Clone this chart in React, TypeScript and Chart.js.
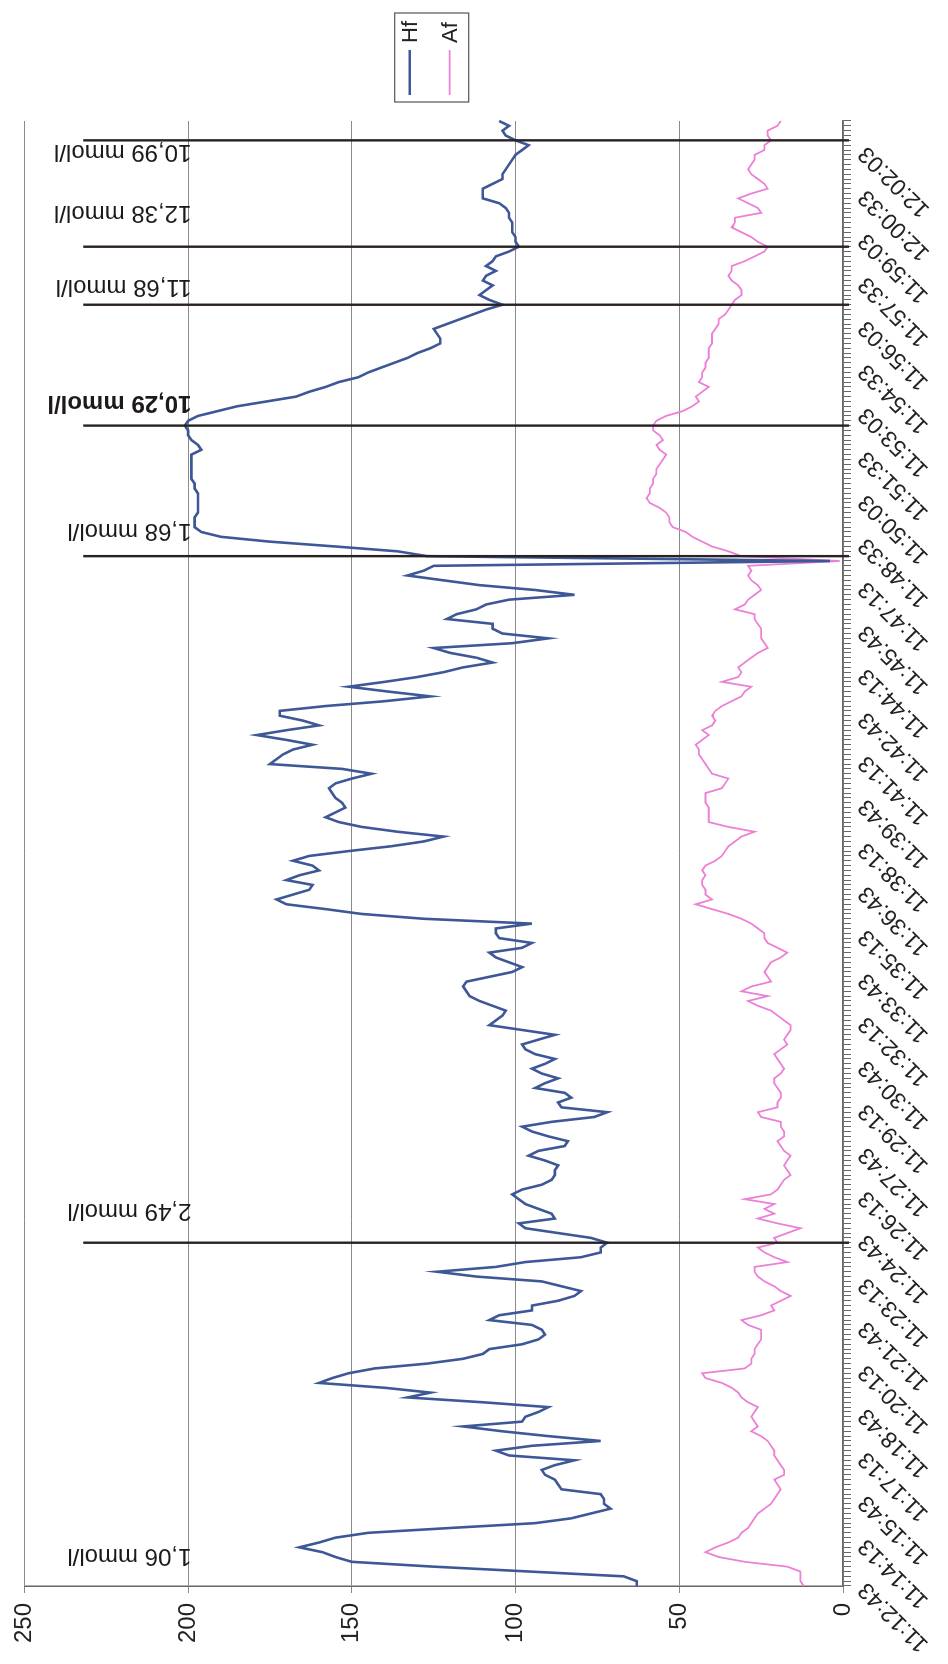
import React, { useEffect, useRef } from 'react';
import { Chart, registerables } from 'chart.js';

Chart.register(...registerables);

// Time-axis tick labels (one every 9 samples)
const TIME_LABELS = [
  '11:12:43', '11:14:13', '11:15:43', '11:17:13', '11:18:43', '11:20:13', '11:21:43', '11:23:13',
  '11:24:43', '11:26:13', '11:27:43', '11:29:13', '11:30:43', '11:32:13', '11:33:43', '11:35:13',
  '11:36:43', '11:38:13', '11:39:43', '11:41:13', '11:42:43', '11:44:13', '11:45:43', '11:47:13',
  '11:48:33', '11:50:03', '11:51:33', '11:53:03', '11:54:33', '11:56:03', '11:57:33', '11:59:03',
  '12:00:33', '12:02:03',
];
const LABEL_EVERY = 9;

const VALUE_TICKS = [0, 50, 100, 150, 200, 250];

// Hf series
const HF = [
  63, 63, 67, 96, 125, 150, 155, 159, 166, 160,
  155, 145, 120, 94, 83, 77, 71, 73, 73, 74,
  86, 87, 88, 91, 92, 88, 82, 102, 106, 95,
  74, 90, 104, 116, 98, 97, 93, 90, 110, 133,
  126, 140, 160, 156, 151, 143, 127, 116, 110, 108,
  98, 93, 91, 92, 95, 108, 105, 95, 95, 87,
  82, 80, 86, 92, 112, 124, 106, 97, 80, 74,
  74, 72, 77, 87, 97, 99, 88, 89, 93, 97,
  99, 101, 98, 92, 89, 88, 88, 87, 91, 96,
  93, 85, 84, 90, 95, 98, 89, 76, 72, 86,
  87, 83, 85, 94, 91, 87, 92, 95, 91, 88,
  94, 97, 98, 93, 88, 98, 108, 106, 104, 103,
  107, 111, 114, 115, 116, 115, 108, 101, 98, 102,
  106, 108, 98, 95, 105, 106, 106, 95, 128, 147,
  158, 170, 173, 168, 163, 162, 170, 166, 160, 162,
  168, 163, 151, 138, 128, 122, 136, 147, 154, 158,
  155, 152, 153, 155, 156, 157, 155, 150, 144, 153,
  175, 173, 171, 168, 162, 170, 179, 170, 160, 165,
  172, 172, 158, 140, 126, 139, 151, 140, 130, 122,
  116, 107, 112, 120, 125, 101, 90, 104, 107, 107,
  121, 118, 112, 109, 102, 82, 94, 111, 122, 133,
  128, 125, 4, 127, 136, 155, 175, 190, 196, 198,
  198, 198, 197, 197, 197, 197, 197, 198, 198, 199,
  199, 199, 199, 199, 199, 196, 197, 199, 200, 200,
  201, 200, 197, 191, 185, 176, 167, 163, 158, 154,
  148, 145, 141, 137, 133, 130, 126, 123, 123, 124,
  125, 121, 117, 113, 109, 104, 108, 111, 109, 107,
  110, 109, 106, 109, 107, 106, 102, 99, 100, 100,
  101, 101, 101, 102, 102, 103, 105, 110, 110, 110,
  107, 104, 104, 103, 102, 101, 100, 98, 96, 100,
  103, 104, 102, 105,
];

// Af series
const AF = [
  12, 13, 13, 13, 17, 30, 38, 42, 39, 35,
  32, 31, 29, 28, 27, 26, 24, 22, 21, 20,
  19, 20, 21, 18, 18, 19, 20, 21, 21, 22,
  23, 25, 28, 26, 27, 28, 27, 26, 29, 31,
  32, 34, 37, 42, 43, 30, 28, 28, 27, 27,
  26, 25, 25, 25, 29, 31, 25, 21, 22, 19,
  16, 19, 21, 24, 26, 27, 27, 17, 21, 24,
  26, 20, 21, 17, 13, 20, 26, 21, 24, 21,
  30, 22, 20, 19, 18, 16, 17, 18, 17, 16,
  18, 19, 20, 18, 18, 19, 19, 25, 26, 20,
  20, 19, 19, 20, 21, 21, 19, 18, 19, 20,
  21, 19, 17, 18, 17, 16, 16, 18, 20, 22,
  26, 29, 23, 31, 28, 22, 23, 24, 23, 22,
  19, 17, 20, 23, 24, 24, 26, 28, 31, 35,
  40, 45, 40, 42, 42, 43, 43, 42, 43, 42,
  39, 37, 36, 35, 33, 31, 27, 35, 41, 41,
  41, 41, 42, 42, 42, 37, 36, 35, 40, 41,
  42, 43, 44, 44, 45, 43, 41, 43, 40, 39,
  40, 39, 37, 34, 31, 30, 28, 37, 32, 31,
  32, 30, 28, 26, 23, 24, 25, 25, 25, 26,
  27, 27, 33, 30, 29, 27, 25, 26, 28, 29,
  28, 29, 1, 31, 35, 40, 43, 46, 48, 52,
  53, 53, 54, 56, 59, 60, 59, 59, 58, 58,
  57, 57, 56, 55, 54, 56, 57, 55, 56, 58,
  58, 57, 54, 49, 46, 44, 45, 43, 41, 44,
  43, 43, 42, 42, 41, 41, 41, 40, 40, 40,
  39, 38, 38, 36, 35, 34, 33, 31, 31, 32,
  34, 35, 34, 34, 30, 27, 24, 23, 26, 28,
  31, 34, 33, 33, 25, 26, 29, 32, 28, 23,
  24, 26, 28, 29, 28, 27, 27, 24, 24, 22,
  23, 23, 20, 19,
];

// Marker annotations: sample index of the marker line, sample position of its text
const MARK_TEXT = ['1,06 mmol/l', '2,49 mmol/l', '1,68 mmol/l', '10,29 mmol/l', '11,68 mmol/l', '12,38 mmol/l', '10,99 mmol/l'];
const MARK_LINE_AT = [null, 71, 213, 240, 265, 277, 299];
const MARK_TEXT_AT = [6.2, 77.6, 218.2, 244.7, 268.8, 284.0, 296.6];
const MARK_BOLD = [false, false, false, true, false, false, false];
const MARK_LINE_TOP = 232;
const MARK_TEXT_FROM = 199;

const FONT = '"Liberation Sans", Arial, Helvetica, sans-serif';

const markerPlugin = {
  id: 'markers',
  afterDatasetsDraw(chart: any) {
    const { ctx, scales } = chart;
    const x = scales.x;
    const y = scales.y;
    ctx.save();
    MARK_TEXT.forEach((text, i) => {
      const at = MARK_LINE_AT[i];
      if (at !== null) {
        const px = x.getPixelForValue(at);
        ctx.beginPath();
        ctx.strokeStyle = '#2a2222';
        ctx.lineWidth = 2.4;
        ctx.moveTo(px, y.getPixelForValue(MARK_LINE_TOP));
        ctx.lineTo(px, y.bottom + 6);
        ctx.stroke();
      }
      const tx = x.getPixelForValue(MARK_TEXT_AT[i]);
      const ty = y.getPixelForValue(MARK_TEXT_FROM);
      ctx.save();
      ctx.translate(tx, ty);
      ctx.rotate(-Math.PI / 2);
      ctx.fillStyle = '#1e1a1a';
      ctx.font = `${MARK_BOLD[i] ? 'bold ' : ''}24px ${FONT}`;
      ctx.textAlign = 'left';
      ctx.textBaseline = 'middle';
      ctx.fillText(text, 0, 0);
      ctx.restore();
    });
    ctx.restore();
  },
};

const legendPlugin = {
  id: 'boxLegend',
  afterDraw(chart: any) {
    const { ctx, chartArea } = chart;
    const w = 89;
    const h = 74;
    const x0 = chartArea.right + 19;
    const y0 = (chartArea.top + chartArea.bottom) / 2 - h / 2 - 2;
    ctx.save();
    ctx.fillStyle = '#ffffff';
    ctx.fillRect(x0, y0, w, h);
    ctx.strokeStyle = '#555';
    ctx.lineWidth = 1.2;
    ctx.strokeRect(x0, y0, w, h);
    chart.data.datasets.forEach((ds: any, i: number) => {
      const yy = y0 + 15 + i * 40;
      ctx.beginPath();
      ctx.strokeStyle = ds.borderColor;
      ctx.lineWidth = ds.borderWidth;
      ctx.moveTo(x0 + 7, yy);
      ctx.lineTo(x0 + 52, yy);
      ctx.stroke();
      ctx.fillStyle = '#222';
      ctx.font = `22px ${FONT}`;
      ctx.textAlign = 'left';
      ctx.textBaseline = 'middle';
      ctx.fillText(ds.label, x0 + 59, yy + 1);
    });
    ctx.restore();
  },
};

const bgPlugin = {
  id: 'bg',
  beforeDraw(chart: any) {
    const { ctx, width, height } = chart;
    ctx.save();
    ctx.fillStyle = '#ffffff';
    ctx.fillRect(0, 0, width, height);
    ctx.restore();
  },
};

export default function App() {
  const ref = useRef<HTMLCanvasElement>(null);

  useEffect(() => {
    const canvas = ref.current;
    if (!canvas) return;
    const labels = HF.map((_, i) => String(i));
    const chart = new Chart(canvas, {
      type: 'line',
      data: {
        labels,
        datasets: [
          {
            label: 'Hf',
            data: HF,
            borderColor: '#3d5797',
            backgroundColor: '#3d5797',
            borderWidth: 2.6,
            pointRadius: 0,
            tension: 0,
            fill: false,
          },
          {
            label: 'Af',
            data: AF,
            borderColor: '#ec80d6',
            backgroundColor: '#ec80d6',
            borderWidth: 1.8,
            pointRadius: 0,
            tension: 0,
            fill: false,
          },
        ],
      },
      options: {
        animation: false,
        responsive: false,
        devicePixelRatio: 1,
        events: [],
        layout: {
          autoPadding: false,
          padding: { top: 19, right: 121, bottom: 0, left: 0 },
        },
        plugins: {
          legend: { display: false },
          tooltip: { enabled: false },
        },
        scales: {
          x: {
            type: 'category',
            offset: false,
            position: 'bottom',
            grid: {
              drawOnChartArea: false,
              drawTicks: true,
              tickLength: 8,
              color: '#666',
              lineWidth: 1,
            },
            border: { display: true, color: '#666', width: 1.5 },
            ticks: {
              autoSkip: false,
              minRotation: 45,
              maxRotation: 45,
              padding: 2,
              color: '#222',
              font: { family: FONT, size: 23 },
              callback: (_v: any, index: number) =>
                index % LABEL_EVERY === 0 ? TIME_LABELS[index / LABEL_EVERY] ?? '' : '',
            },
            afterFit: (scale: any) => {
              scale.height = 105;
            },
          },
          y: {
            min: VALUE_TICKS[0],
            max: VALUE_TICKS[VALUE_TICKS.length - 1],
            grid: {
              color: '#8a8a8a',
              lineWidth: 1,
              drawTicks: true,
              tickLength: 7,
            },
            border: { display: true, color: '#666', width: 1.5 },
            ticks: {
              stepSize: 50,
              padding: 10,
              color: '#222',
              font: { family: FONT, size: 24 },
            },
            afterFit: (scale: any) => {
              scale.width = 78;
            },
          },
        },
      },
      plugins: [bgPlugin, markerPlugin, legendPlugin],
    } as any);
    return () => chart.destroy();
  }, []);

  return (
    <div
      style={{
        position: 'absolute',
        left: 0,
        top: 0,
        width: 948,
        height: 1664,
        overflow: 'hidden',
        background: '#ffffff',
      }}
    >
      <canvas
        ref={ref}
        width={1664}
        height={948}
        style={{
          position: 'absolute',
          left: (948 - 1664) / 2,
          top: (1664 - 948) / 2,
          width: 1664,
          height: 948,
          transform: 'rotate(-90deg)',
          transformOrigin: '50% 50%',
        }}
      />
    </div>
  );
}
